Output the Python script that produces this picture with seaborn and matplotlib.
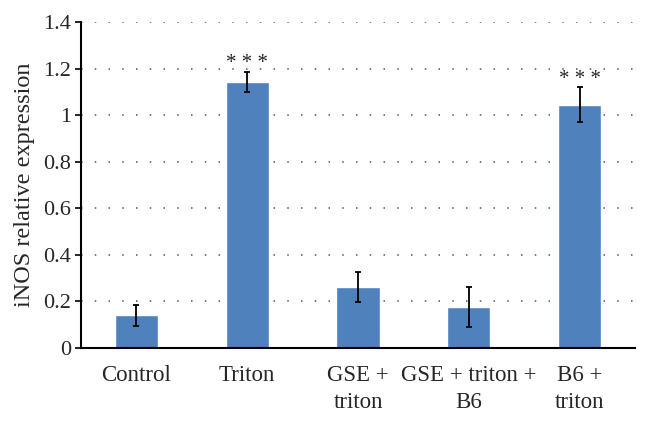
import pandas as pd
import seaborn as sns
import matplotlib.pyplot as plt
import numpy as np

# values
groups = ["Control", "Triton", "GSE +\ntriton", "GSE + triton +\nB6", "B6 +\ntriton"]
expression = [0.14, 1.142, 0.262, 0.176, 1.045]
errors = [0.045, 0.042, 0.066, 0.086, 0.074]
stars = ["", "* * *", "", "", "* * *"]

df = pd.DataFrame({"group": groups, "expr": expression, "err": errors})

sns.set_style("white")
plt.rcParams['font.family'] = ['Liberation Serif', 'DejaVu Serif']

fig = plt.figure(figsize=(6.5, 4.21), dpi=100)
ax = fig.add_axes([0.1246, 0.1734, 0.8524, 0.7743])

sns.barplot(data=df, x="group", y="expr", color="#4F81BD", saturation=1,
            width=0.39, ax=ax)
ax.errorbar(np.arange(len(groups)), df["expr"], yerr=df["err"], fmt="none",
            ecolor="black", elinewidth=1.3, capsize=2.5, capthick=1.3)

for i, s in enumerate(stars):
    if s:
        ax.text(i, df["expr"][i] + df["err"][i] - 0.005, s, ha="center",
                va="bottom", fontsize=15)

ax.set_ylim(0, 1.4)
ax.set_xlim(-0.5, len(groups) - 0.5)
ax.set_yticks(np.arange(0, 1.41, 0.2))
ax.set_yticklabels(["0", "0.2", "0.4", "0.6", "0.8", "1", "1.2", "1.4"])
for y in np.arange(0.2, 1.41, 0.2):
    ax.axhline(y, color="#555555", linestyle=(0, (1, 8)), linewidth=1.1, zorder=0)

ax.set_xticks(np.arange(-0.5, len(groups), 1.0), minor=True)
ax.tick_params(axis="x", which="major", length=0, pad=12, labelsize=16.5)
ax.tick_params(axis="x", which="minor", length=5, width=1.2, color="black", direction="out")
ax.tick_params(axis="y", which="major", length=4, width=1.2, color="black",
               direction="out", labelsize=16, left=True, pad=3)
for lbl in ax.get_xticklabels():
    lbl.set_linespacing(1.4)

ax.set_xlabel("")
ax.set_ylabel("iNOS relative expression", fontsize=17.5, labelpad=6)
sns.despine(ax=ax)
for sp in ["left", "bottom"]:
    ax.spines[sp].set_color("black")
    ax.spines[sp].set_linewidth(1.5)

fig.savefig("out.png", dpi=100)
